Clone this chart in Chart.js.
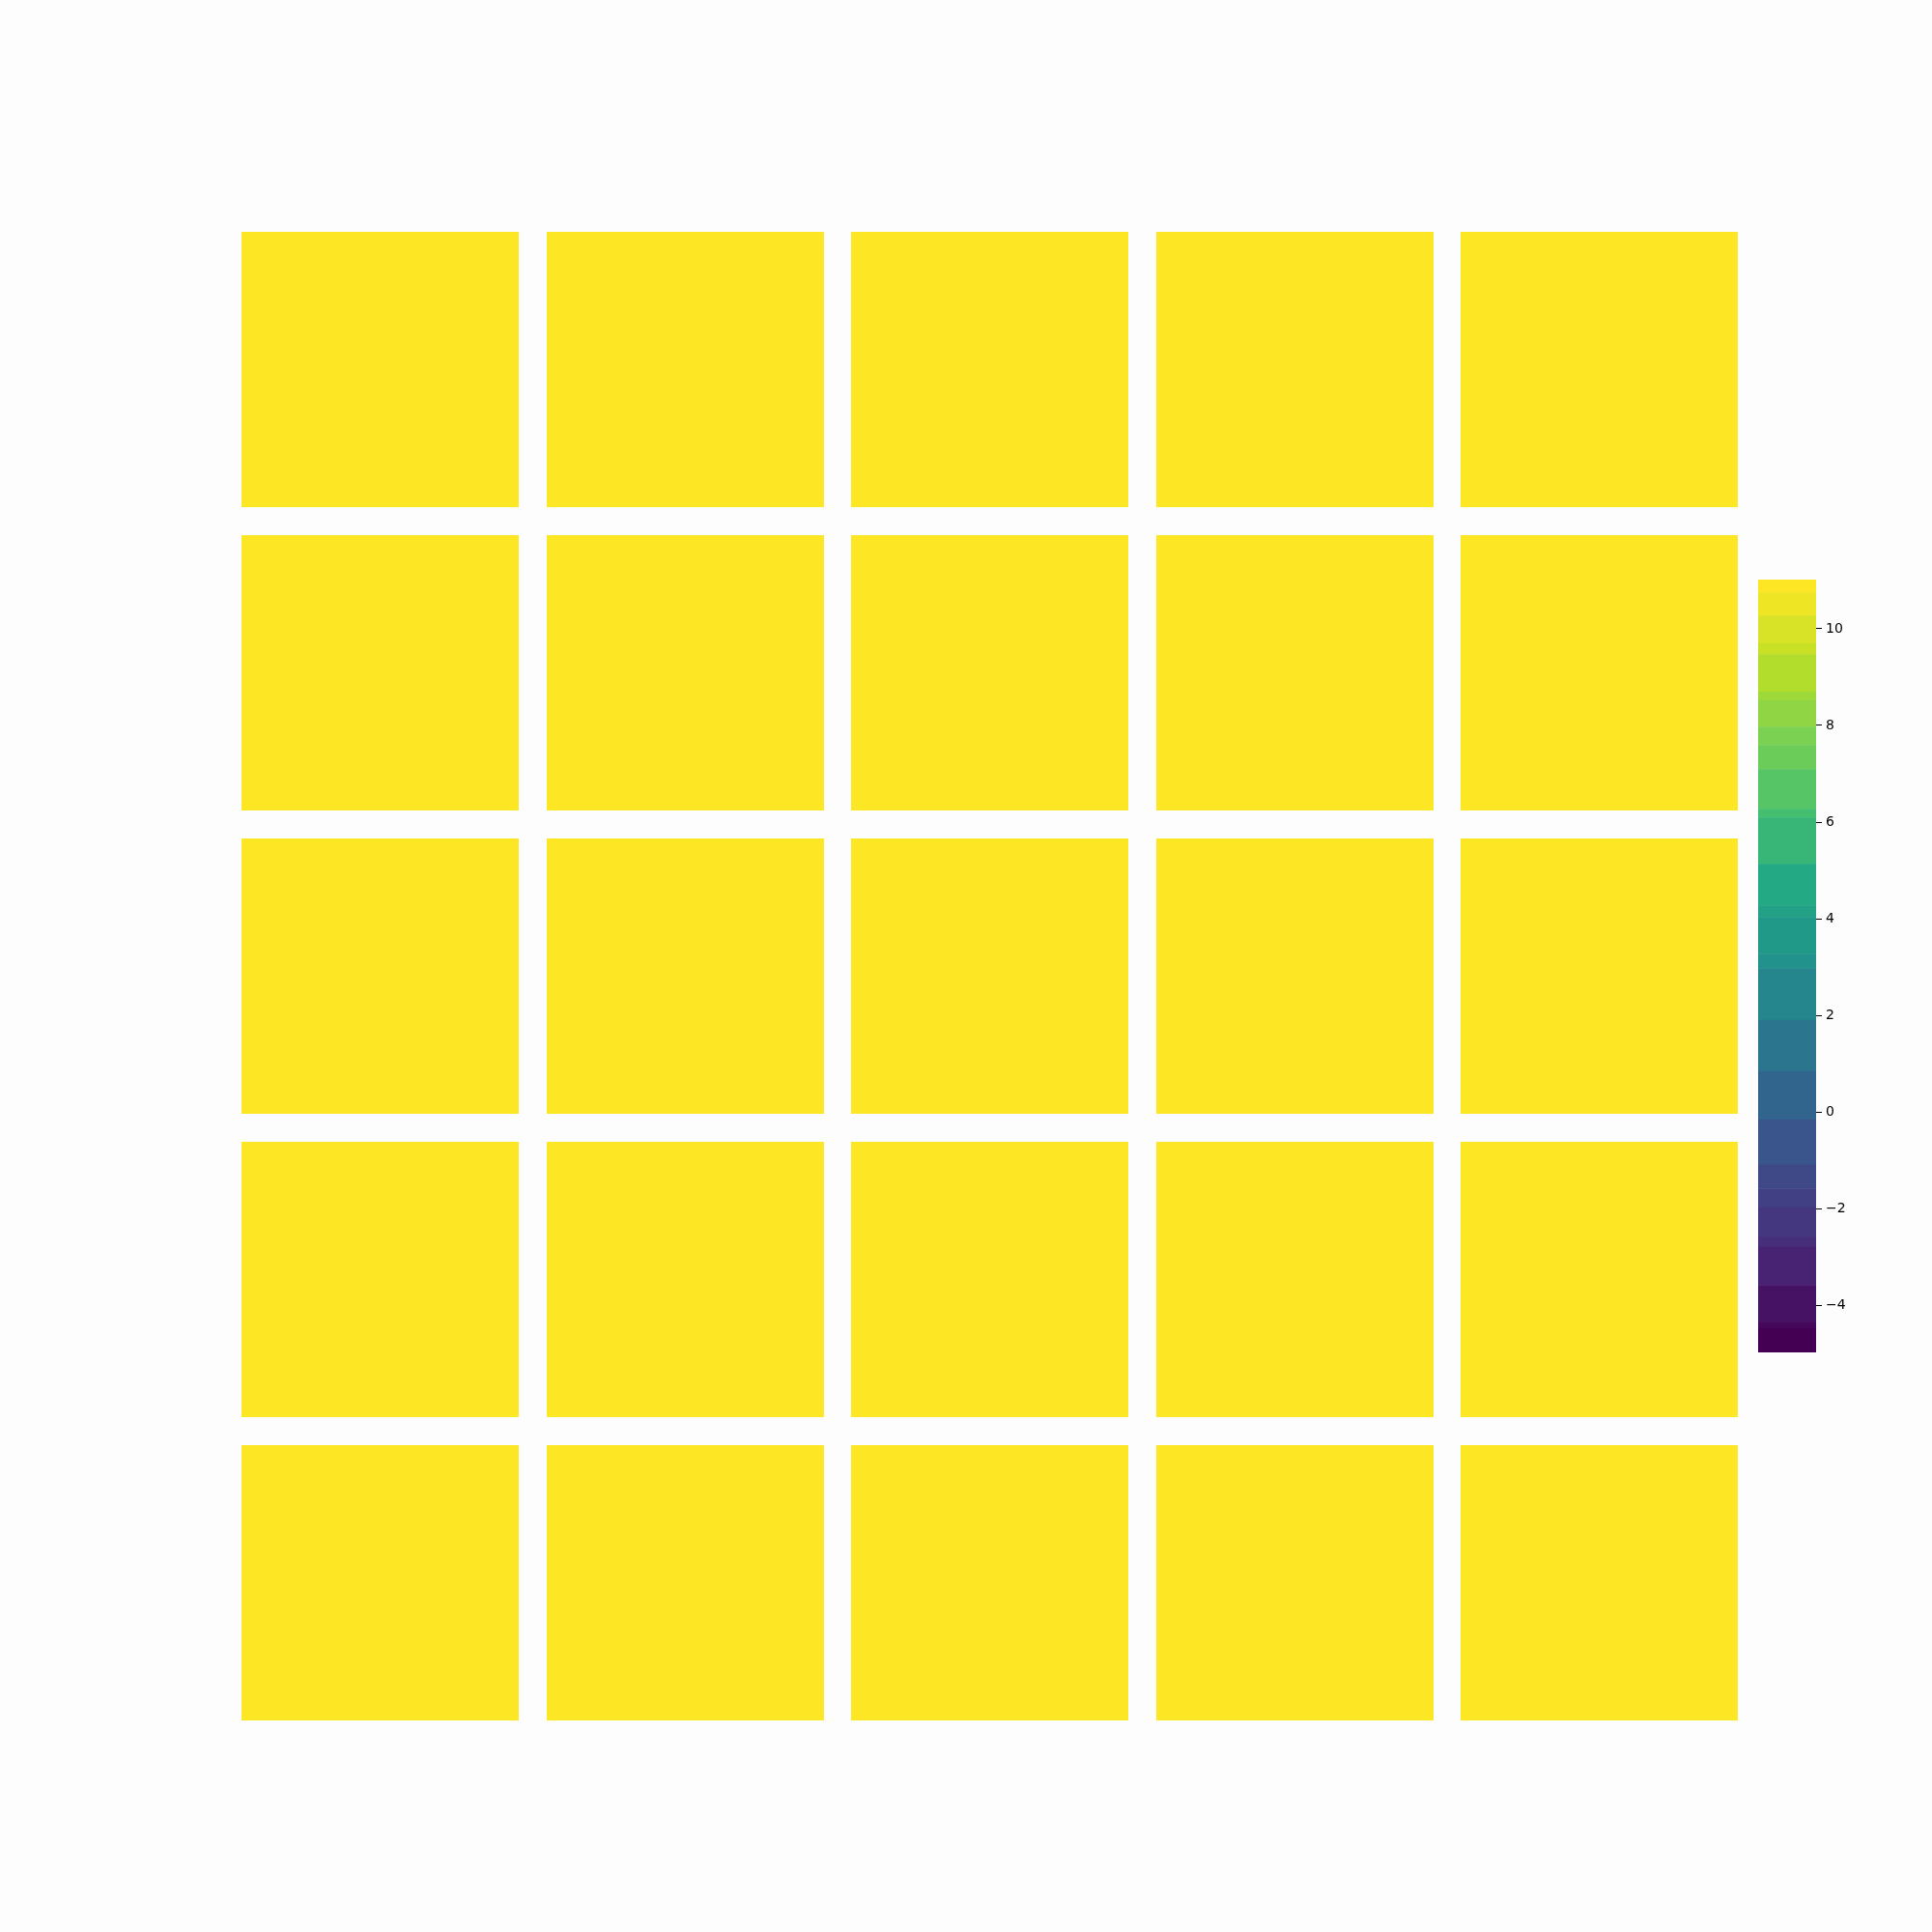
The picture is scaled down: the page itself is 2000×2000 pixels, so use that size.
<!DOCTYPE html>
<html>
<head>
<meta charset="utf-8">
<script src="https://cdn.jsdelivr.net/npm/chart.js@4/dist/chart.umd.min.js"></script>
<style>
  body { margin: 0; background: #fdfdfd; }
  #wrap { position: relative; width: 2000px; height: 2000px; background: #fdfdfd; }
  canvas { position: absolute; }
</style>
</head>
<body>
<div id="wrap"></div>
<script>
// values of the 5x5 panels (row by row, top to bottom)
const gridValues = [
  [11, 11, 11, 11, 11],
  [11, 11, 11, 11, 11],
  [11, 11, 11, 11, 11],
  [11, 11, 11, 11, 11],
  [11, 11, 11, 11, 11]
];
// colorbar band edges, bottom to top
const levels = [-4.98, -4.48, -4.36, -3.59, -2.8, -2.6, -1.98, -1.59, -1.1, -0.16, 0.84, 1.9, 2.97, 3.27,
  4.03, 4.27, 5.13, 6.09, 6.27, 7.09, 7.59, 7.97, 8.52, 8.7, 9.47, 9.7, 10.27, 10.75, 11.02];
const cbTicks = [-4, -2, 0, 2, 4, 6, 8, 10];

// viridis anchors
const viridis = ["#440154", "#482475", "#414487", "#355f8d", "#2a788e", "#21918c",
  "#22a884", "#44bf70", "#7ad151", "#bddf26", "#fde725"];

function hex2rgb(h){
  return [parseInt(h.slice(1,3),16), parseInt(h.slice(3,5),16), parseInt(h.slice(5,7),16)];
}
function cmap(t){
  t = Math.min(1, Math.max(0, t));
  var p = t * (viridis.length - 1);
  var i = Math.min(Math.floor(p), viridis.length - 2);
  var f = p - i;
  var a = hex2rgb(viridis[i]), b = hex2rgb(viridis[i+1]);
  var c = a.map((v, k) => Math.round(v + (b[k] - v) * f));
  return "rgb(" + c.join(",") + ")";
}
// like contourf: band midpoints spread over the whole colormap
function mid(i){ return (levels[i] + levels[i+1]) / 2; }
function bandColor(i){
  var lo = mid(0), hi = mid(levels.length - 2);
  return cmap((mid(i) - lo) / (hi - lo));
}
function colorFor(v){
  for (var i = 0; i < levels.length - 1; i++) {
    if (v <= levels[i+1]) return bandColor(i);
  }
  return bandColor(levels.length - 2);
}

const wrap = document.getElementById("wrap");
function addCanvas(x, y, w, h){
  var c = document.createElement("canvas");
  c.width = w; c.height = h;
  c.style.left = x + "px"; c.style.top = y + "px";
  c.style.width = w + "px"; c.style.height = h + "px";
  wrap.appendChild(c);
  return c;
}

// panels
const left0 = 250, top0 = 240, cell = 287, pitchX = 315.6, pitchY = 314;
for (var r = 0; r < gridValues.length; r++) {
  for (var k = 0; k < gridValues[r].length; k++) {
    var v = gridValues[r][k];
    var cv = addCanvas(Math.round(left0 + k * pitchX), Math.round(top0 + r * pitchY), cell, cell - 2);
    new Chart(cv, {
      type: "bar",
      data: {
        labels: [""],
        datasets: [{
          data: [v],
          backgroundColor: colorFor(v),
          borderWidth: 0,
          barPercentage: 1,
          categoryPercentage: 1
        }]
      },
      options: {
        responsive: false,
        animation: false,
        layout: { padding: 0 },
        plugins: { legend: { display: false }, tooltip: { enabled: false } },
        scales: {
          x: { display: false },
          y: { display: false, min: 0, max: v }
        }
      }
    });
  }
}

// colorbar
const cbDatasets = [];
for (var i = 0; i < levels.length - 1; i++) {
  cbDatasets.push({
    data: [[levels[i], levels[i+1]]],
    backgroundColor: bandColor(i),
    borderWidth: 0,
    barPercentage: 1,
    categoryPercentage: 1,
    grouped: false
  });
}
const cbCanvas = addCanvas(1820, 590, 140, 820);
new Chart(cbCanvas, {
  type: "bar",
  data: { labels: [""], datasets: cbDatasets },
  options: {
    responsive: false,
    animation: false,
    layout: { padding: { top: 10, bottom: 10, left: 0, right: 0 } },
    plugins: { legend: { display: false }, tooltip: { enabled: false } },
    scales: {
      x: { display: false },
      y: {
        position: "right",
        min: levels[0],
        max: levels[levels.length - 1],
        afterFit: function(s){ s.width = 80; s.paddingTop = 0; s.paddingBottom = 0; },
        afterBuildTicks: function(s){ s.ticks = cbTicks.map(t => ({ value: t })); },
        border: { display: false },
        grid: { drawOnChartArea: false, tickLength: 6, tickColor: "#000", tickWidth: 1 },
        ticks: {
          padding: 4,
          color: "#000",
          font: { family: "DejaVu Sans", size: 14 },
          callback: function(val){ return val < 0 ? "\u2212" + Math.abs(val) : String(val); }
        }
      }
    }
  }
});
</script>
</body>
</html>
